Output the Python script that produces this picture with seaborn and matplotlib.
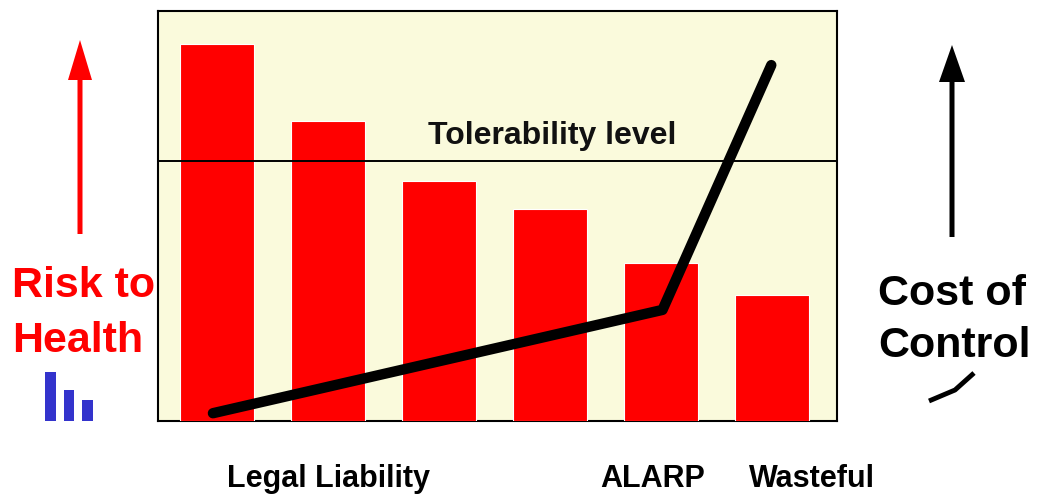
import matplotlib
matplotlib.use("Agg")
from matplotlib import pyplot as plt
from matplotlib.patches import FancyArrow, Rectangle
import numpy as np
import pandas as pd
import seaborn as sns

# red bars: risk to health at each stage
stages = ["s1", "s2", "s3", "s4", "s5", "s6"]
risk = [92.0, 73.2, 58.5, 51.7, 38.5, 30.7]

# black line: cost of control (x in bar-index units)
cost_x = [-0.04, 4.01, 4.99]
cost_y = [1.9, 27.1, 86.8]

tolerability = 63.4

# labels under the chart, placed in bar-index units
zone_labels = ["Legal Liability", "ALARP", "Wasteful"]
zone_pos = [1.0, 3.92, 5.36]

# little icon bars under "Risk to Health"
icon_heights = [49, 31, 21]

sns.set_theme(style="white")
plt.rcParams["font.family"] = ["Liberation Sans", "DejaVu Sans"]
plt.rcParams["font.weight"] = "bold"

fig = plt.figure(figsize=(10.43, 4.94), dpi=100)
ax = fig.add_axes([158 / 1043, 73 / 494, 679 / 1043, 410 / 494])
ax.set_facecolor("#fafadc")

df = pd.DataFrame({"stage": stages, "risk": risk})
sns.barplot(data=df, x="stage", y="risk", color="#ff0000", saturation=1,
            width=0.667, edgecolor="white", linewidth=0.8, ax=ax, zorder=1)

ax.axhline(tolerability, color="black", lw=1.4, zorder=2)
ax.plot(cost_x, cost_y, color="black", lw=7.5, solid_capstyle="round",
        solid_joinstyle="round", zorder=3)
ax.text(3.02, tolerability + 4.1, "Tolerability level", ha="center",
        va="baseline", fontsize=23, fontweight="bold", color="#111111")

ax.set_xlim(-0.535, 5.582)
ax.set_ylim(0, 100)
ax.set_xticks([])
ax.set_yticks([])
ax.set_xlabel("")
ax.set_ylabel("")
for s in ax.spines.values():
    s.set_color("black")
    s.set_linewidth(1.5)
    s.set_zorder(0.5)

for lab, pos in zip(zone_labels, zone_pos):
    ax.text(pos, -16, lab, ha="center", va="baseline", fontsize=22,
            fontweight="bold", color="black", clip_on=False)

# decoration layer in pixel units
deco = fig.add_axes([0, 0, 1, 1])
deco.set_xlim(0, 1043)
deco.set_ylim(494, 0)
deco.axis("off")
deco.patch.set_alpha(0)

deco.add_patch(FancyArrow(80, 234, 0, -194, width=5, head_width=24,
                          head_length=40, length_includes_head=True,
                          color="#ff0000", lw=0))
deco.add_patch(FancyArrow(952, 237, 0, -192, width=5, head_width=26,
                          head_length=37, length_includes_head=True,
                          color="black", lw=0))

deco.text(12, 297, "Risk to", color="#ff0000", fontsize=31,
          fontweight="bold", va="baseline", ha="left")
deco.text(12, 352, "Health", color="#ff0000", fontsize=31,
          fontweight="bold", va="baseline", ha="left")
deco.text(878, 305, "Cost of", color="black", fontsize=31,
          fontweight="bold", va="baseline", ha="left")
deco.text(878, 357, "Control", color="black", fontsize=31,
          fontweight="bold", va="baseline", ha="left")

for i, h in enumerate(icon_heights):
    deco.add_patch(Rectangle((45 + i * 18.5, 421 - h), 10.5, h,
                             color="#3333cc", lw=0))

deco.plot([929, 955, 974], [401, 390, 373], color="black", lw=3.5,
          solid_capstyle="butt")

fig.savefig("out.png", dpi=100)
